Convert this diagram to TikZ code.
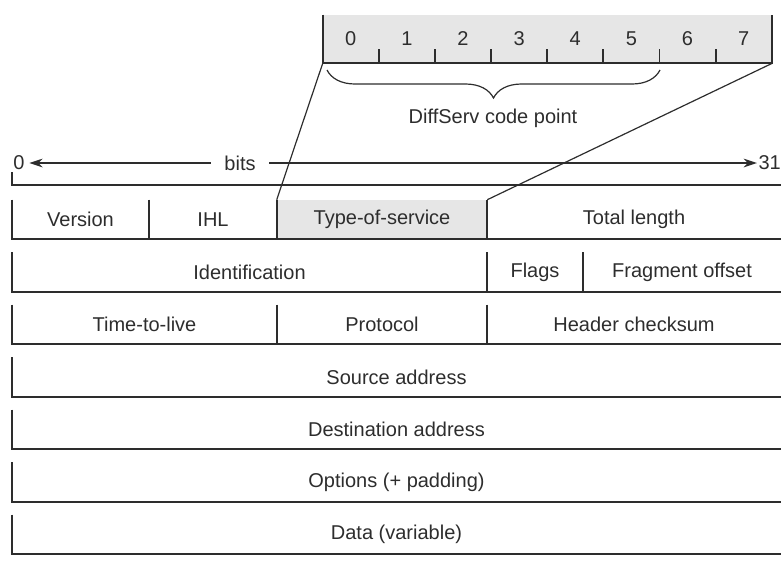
\documentclass[tikz,border=0pt]{standalone}
\usepackage{fontspec}
\setmainfont{Liberation Sans}
\usetikzlibrary{arrows.meta,positioning,calc,fit,decorations.pathreplacing}
\definecolor{fieldgray}{RGB}{230,230,230}
\definecolor{linegray}{RGB}{45,45,45}

\begin{document}
\begin{tikzpicture}[x=0.75pt, y=-0.75pt,
    every node/.style={font=\fontsize{15}{17}\selectfont, text=linegray},
    every label/.style={inner sep=0pt},
    cell/.style={inner sep=0pt},
    shaded/.style={cell, fill=fieldgray},
    edge/.style={draw=linegray, line width=1.4pt},
    thin edge/.style={draw=linegray, line width=0.9pt},
    arr/.style={-{Stealth[length=10pt, width=6.5pt]}, line width=1.1pt, draw=linegray}]
    \useasboundingbox (0,0) rectangle (781,565);

    % the DiffServ byte
    \node[shaded, fit={(323,15)(772,63)}] (dsbyte) {};
    \draw[edge] (dsbyte.north west) |- (dsbyte.south east) -- (dsbyte.north east);
    \foreach \i in {1,...,7}
        \draw[edge] ($(dsbyte.south west)+(\i*56.125,0)$) -- ++(0,-14);
    \foreach \i in {0,...,7}
        \node (bit\i) at ($(dsbyte.south west)+(\i*56.125+28,-25)$) {\i};
    \coordinate (bracel) at (327,70);
    \coordinate (bracer) at (660,70);
    \draw[thin edge, decorate, decoration={brace, mirror, amplitude=21pt}] (bracel) -- (bracer);
    \node (dscp) at (493,118) {DiffServ code point};

    % bit scale
    \node (zero) at (19,163) {0};
    \node[inner sep=10pt] (bits) at (240,163) {bits};
    \node[anchor=west, inner sep=1pt] (thirtyone) at (757,163) {31};
    \draw[arr] (bits) -- (zero);
    \draw[arr] (bits) -- (thirtyone);
    \coordinate (scalel) at (12,172);
    \coordinate (scaler) at (781,185);
    \draw[edge] (scalel) |- (scaler);

    % header rows
    \node[cell, fit={(12,200)(149,239)}, label=center:Version] (ver) {};
    \node[cell, fit={(149,200)(277,239)}, label=center:IHL] (ihl) {};
    \node[shaded, fit={(277,200)(487,239)}, label=center:Type-of-service] (tos) {};
    \node[cell, fit={(487,200)(781,239)}, label=center:Total length] (len) {};

    \node[cell, fit={(12,252.5)(487,291.5)}, label=center:Identification] (ident) {};
    \node[cell, fit={(487,252.5)(583,291.5)}, label=center:Flags] (flags) {};
    \node[cell, fit={(583,252.5)(781,291.5)}, label=center:Fragment offset] (frag) {};

    \node[cell, fit={(12,305)(277,344)}, label=center:Time-to-live] (ttl) {};
    \node[cell, fit={(277,305)(487,344)}, label=center:Protocol] (proto) {};
    \node[cell, fit={(487,305)(781,344)}, label=center:Header checksum] (csum) {};

    \node[cell, fit={(12,357.5)(781,396.5)}, label=center:Source address] (src) {};
    \node[cell, fit={(12,410)(781,449)}, label=center:Destination address] (dst) {};
    \node[cell, fit={(12,462.5)(781,501.5)}, label={center:Options (+ padding)}] (opts) {};
    \node[cell, fit={(12,515)(781,554)}, label={center:Data (variable)}] (data) {};

    \draw[edge] (ver.north west) |- (len.south east);
    \draw[edge] (ident.north west) |- (frag.south east);
    \draw[edge] (ttl.north west) |- (csum.south east);
    \foreach \c in {src,dst,opts,data}
        \draw[edge] (\c.north west) |- (\c.south east);
    \foreach \c in {ihl,tos,len,flags,frag,proto,csum}
        \draw[edge] (\c.north west) -- (\c.south west);

    % zoom lines
    \draw[thin edge] (dsbyte.south west) -- (tos.north west);
    \draw[thin edge] (dsbyte.south east) -- (tos.north east);
\end{tikzpicture}
\end{document}
